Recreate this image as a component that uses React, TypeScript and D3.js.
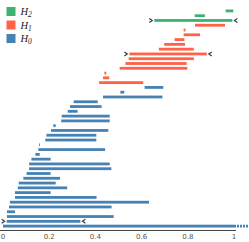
import React from "react";
import * as d3 from "d3";

const dims = [2, 2, 2, 1, 1, 1, 1, 1, 1, 1, 1, 1, 1, 1, 1, 1, 0, 0, 0, 0, 0, 0, 0, 0, 0, 0, 0, 0, 0, 0, 0, 0, 0, 0, 0, 0, 0, 0, 0, 0, 0, 0, 0, 0, 0, 0];
const births = [0.964, 0.83, 0.655, 0.831, 0.782, 0.782, 0.743, 0.698, 0.675, 0.547, 0.544, 0.53, 0.505, 0.439, 0.433, 0.416,
  0.613, 0.508, 0.433, 0.306, 0.29, 0.28, 0.254, 0.252, 0.218, 0.208, 0.188, 0.183, 0.156, 0.153, 0.14, 0.123, 0.113, 0.113,
  0.102, 0.088, 0.068, 0.064, 0.052, 0.052, 0.03, 0.026, 0.017, 0.017, 0.016, 0.0];
const deaths = [0.997, 0.874, 0.993, 0.961, 0.79, 0.853, 0.785, 0.788, 0.826, 0.882, 0.826, 0.795, 0.798, 0.447, 0.46, 0.607,
  0.694, 0.525, 0.69, 0.41, 0.427, 0.323, 0.462, 0.462, 0.228, 0.456, 0.404, 0.404, 0.159, 0.442, 0.159, 0.206, 0.462, 0.469,
  0.206, 0.247, 0.228, 0.278, 0.206, 0.405, 0.632, 0.47, 0.052, 0.479, 0.335, Infinity];
const marked = [2, 9, 44];
const ticks = [0, 0.2, 0.4, 0.6, 0.8, 1];
const legendLabels = ["2", "1", "0"];
const colors: Record<number, string> = { 2: "#3cb371", 1: "#ff6347", 0: "#4682b4" };

const W = 249, H = 242;

export default function App() {
  const x = d3.scaleLinear().domain([0, 1]).range([3, 234]);
  const y = d3.scaleLinear().domain([0, dims.length - 1]).range([10.9, 226.1]);
  const bh = 2.8;
  const fmt = (v: number) => (v === 0 || v === 1 ? String(v) : v.toFixed(1));
  return (
    <svg width={W} height={H} style={{ position: "absolute", left: 0, top: 0 }}>
      <g>
        {dims.map((d, i) => {
          const x0 = x(births[i]);
          const inf = !isFinite(deaths[i]);
          const x1 = inf ? x(1) : x(deaths[i]);
          return (
            <g key={i}>
              <rect x={x0} y={y(i) - bh / 2} width={Math.max(x1 - x0, 0.8)} height={bh} fill={colors[d]} />
              {inf && (
                <line x1={x(1)} x2={W} y1={y(i)} y2={y(i)} stroke={colors[d]} strokeWidth={bh} strokeDasharray="2,1" />
              )}
            </g>
          );
        })}
        {marked.map((i) => {
          const yy = y(i);
          const xl = x(births[i]) - 2;
          const xr = x(deaths[i]) + 2;
          return (
            <g key={"m" + i} fill="none" stroke="#333" strokeWidth={1.1}>
              <path d={`M${xl - 3},${yy - 2} L${xl},${yy} L${xl - 3},${yy + 2}`} />
              <path d={`M${xr + 3},${yy - 2} L${xr},${yy} L${xr + 3},${yy + 2}`} />
            </g>
          );
        })}
      </g>
      <line x1={0} x2={x(1) + 2} y1={230.5} y2={230.5} stroke="#444" strokeWidth={1} />
      {ticks.map((t) => (
        <text key={t} x={x(t)} y={239} textAnchor="middle" fontSize={7} fill="#555" fontFamily="DejaVu Sans, sans-serif">
          {fmt(t)}
        </text>
      ))}
      {legendLabels.map((l, i) => (
        <g key={l} transform={`translate(6.5, ${7 + i * 13.5})`}>
          <rect width={9} height={9} fill={colors[+l]} />
          <text x={14} y={8} fontSize={10.5} fontStyle="italic" fontFamily="Liberation Serif, serif" fill="#222">
            H<tspan fontSize={7.5} dy={2}>{l}</tspan>
          </text>
        </g>
      ))}
    </svg>
  );
}
